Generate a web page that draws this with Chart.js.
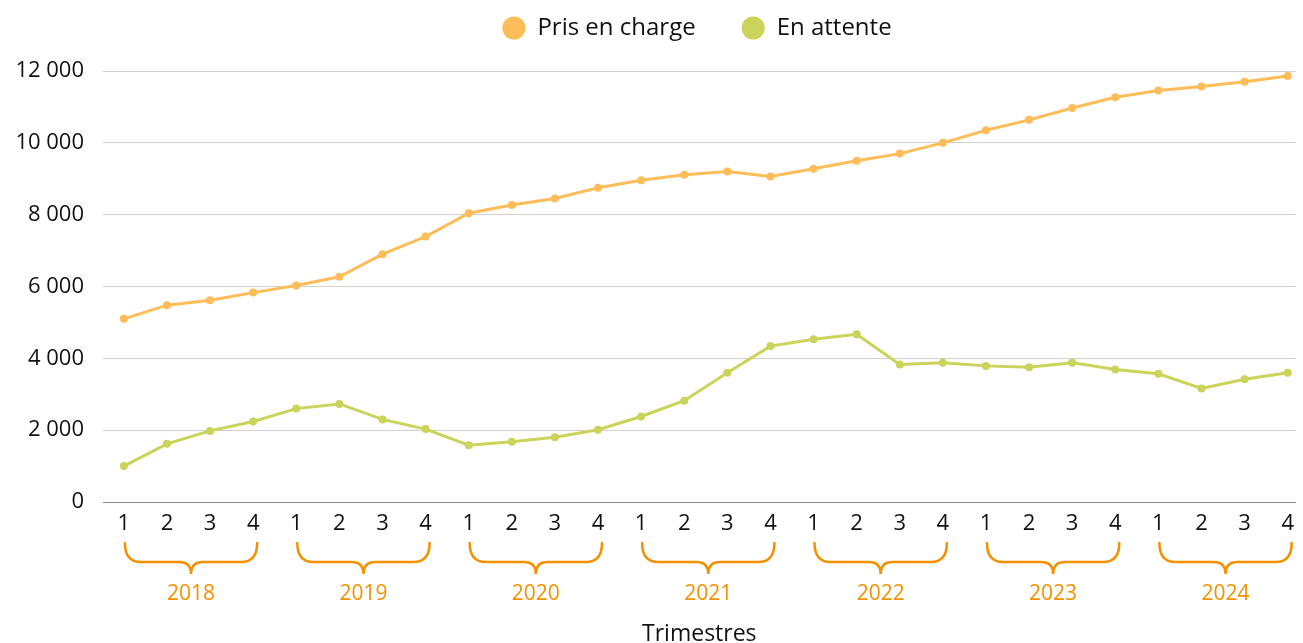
<!DOCTYPE html>
<html><head><meta charset="utf-8">
<script src="https://cdn.jsdelivr.net/npm/chart.js@4/dist/chart.umd.min.js"></script>
<style>html,body{margin:0;padding:0;background:#fff}#wrap{width:1303px;height:643px}</style>
</head><body><div id="wrap"><canvas id="c" width="1303" height="643"></canvas></div>
<script>
const years = ["2018","2019","2020","2021","2022","2023","2024"];
const quarters = ["1","2","3","4"];
const priseEnCharge = [5100,5480,5620,5830,6030,6270,6900,7390,8040,8270,8450,8750,8960,9110,9200,9060,9280,9500,9700,10000,10350,10640,10970,11270,11460,11570,11700,11860];
const enAttente = [1000,1620,1980,2240,2600,2730,2300,2030,1580,1680,1800,2010,2380,2820,3600,4340,4530,4670,3830,3880,3790,3750,3880,3690,3570,3160,3420,3600];
const yTicks = [0,2000,4000,6000,8000,10000,12000];

const FONT = "'Open Sans', 'Noto Sans', sans-serif";
const ORANGE = "#FFBD59";
const GREEN = "#CBD35A";
const YEAR_COLOR = "#F39200";

const toXY = arr => arr.map((v,i)=>({x:i,y:v}));

const LEG_PAD = 46;
const legendPlugin = {
  id:'legendFix',
  beforeInit(chart){
    const lg = chart.legend;
    const fit = lg.fit;
    lg.fit = function(){ fit.call(this); this.height = 101; };
  },
  afterLayout(chart){
    chart.legend.left = chart.chartArea.left - 12;
  }
};

const bracePlugin = {
  id:'braces',
  afterDraw(chart){
    const ctx = chart.ctx, xs = chart.scales.x, b = chart.chartArea.bottom;
    const top = b+41, h = b+60, tip = b+72, r = 16, r2 = 12;
    ctx.save();
    ctx.strokeStyle = YEAR_COLOR; ctx.lineWidth = 2.5; ctx.lineCap='round';
    ctx.fillStyle = YEAR_COLOR; ctx.font = "21px " + FONT;
    ctx.textAlign='center'; ctx.textBaseline='middle';
    years.forEach((y,g)=>{
      const x1 = xs.getPixelForValue(g*4)+1;
      const x2 = xs.getPixelForValue(g*4+3)+4;
      const mid = (x1+x2)/2;
      ctx.beginPath();
      ctx.moveTo(x1, top);
      ctx.quadraticCurveTo(x1, h, x1+r, h);
      ctx.lineTo(mid-r2, h);
      ctx.quadraticCurveTo(mid, h, mid, tip);
      ctx.quadraticCurveTo(mid, h, mid+r2, h);
      ctx.lineTo(x2-r, h);
      ctx.quadraticCurveTo(x2, h, x2, top);
      ctx.stroke();
      ctx.fillText(y, mid, b+92);
    });
    ctx.restore();
  }
};

new Chart(document.getElementById('c'), {
  type:'line',
  data:{datasets:[
    {label:'Pris en charge', data:toXY(priseEnCharge), borderColor:ORANGE, backgroundColor:ORANGE, borderWidth:3, pointRadius:4, pointBackgroundColor:ORANGE, pointBorderWidth:0, tension:0},
    {label:'En attente', data:toXY(enAttente), borderColor:GREEN, backgroundColor:GREEN, borderWidth:3, pointRadius:4, pointBackgroundColor:GREEN, pointBorderWidth:0, tension:0}
  ]},
  options:{
    responsive:false, animation:false, events:[],
    layout:{padding:{left:0,right:0,top:-30,bottom:0}},
    plugins:{
      legend:{position:'top', labels:{usePointStyle:true, pointStyle:'circle', boxWidth:23, boxHeight:16.3, padding:LEG_PAD, color:'#111', font:{family:FONT, size:24}}},
      tooltip:{enabled:false}
    },
    scales:{
      x:{type:'linear', min:-0.484, max:27.184,
        afterBuildTicks(s){ s.ticks = priseEnCharge.map((_,i)=>({value:i})); },
        afterFit(s){ s.height = 141; },
        ticks:{autoSkip:false, maxRotation:0, color:'#111', padding:9, font:{family:FONT,size:22},
          callback:(v)=>quarters[v%4]},
        grid:{display:false, drawTicks:false},
        border:{display:true, color:'#888', width:1},
        title:{display:true, text:'Trimestres', color:'#111', font:{family:FONT,size:23}, padding:{top:0,bottom:-5}}
      },
      y:{min:0, max:12000,
        afterBuildTicks(s){ s.ticks = yTicks.map(v=>({value:v})); },
        afterFit(s){ s.width = 103; },
        ticks:{color:'#111', padding:19, font:{family:FONT,size:22},
          callback:(v)=>v.toLocaleString('fr-FR').replace(/[\u202f\u00a0]/g,' ')},
        grid:{color:'#d0d0d0', drawTicks:false},
        border:{display:false}
      }
    }
  },
  plugins:[legendPlugin, bracePlugin]
});
</script></body></html>
